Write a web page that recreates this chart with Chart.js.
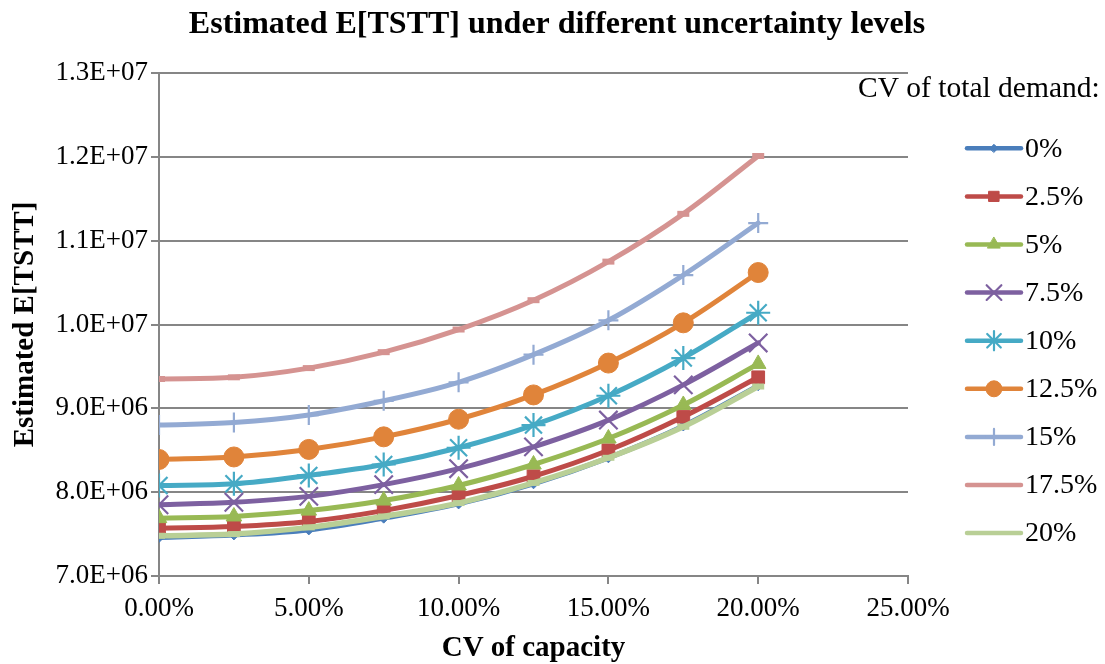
<!DOCTYPE html>
<html>
<head>
<meta charset="utf-8">
<script src="https://cdn.jsdelivr.net/npm/chart.js@4.4.1/dist/chart.umd.min.js"></script>
<style>
  html, body { margin: 0; padding: 0; background: #ffffff; }
  #wrap { width: 1105px; height: 664px; }
</style>
</head>
<body>
<div id="wrap"><canvas id="c" width="1105" height="664"></canvas></div>
<script>
// CV of capacity (x values)
const cvCapacity = [0, 0.025, 0.05, 0.075, 0.10, 0.125, 0.15, 0.175, 0.20];

// Estimated E[TSTT] for each CV of total demand
const tstt0   = [7.46e6, 7.49e6, 7.55e6, 7.69e6, 7.86e6, 8.10e6, 8.41e6, 8.79e6, 9.27e6];
const tstt25  = [7.57e6, 7.59e6, 7.65e6, 7.78e6, 7.96e6, 8.19e6, 8.50e6, 8.90e6, 9.37e6];
const tstt5   = [7.69e6, 7.71e6, 7.78e6, 7.90e6, 8.08e6, 8.33e6, 8.64e6, 9.04e6, 9.53e6];
const tstt75  = [7.85e6, 7.88e6, 7.95e6, 8.09e6, 8.28e6, 8.54e6, 8.86e6, 9.28e6, 9.78e6];
const tstt10  = [8.08e6, 8.10e6, 8.20e6, 8.33e6, 8.53e6, 8.80e6, 9.15e6, 9.60e6, 1.014e7];
const tstt125 = [8.39e6, 8.42e6, 8.51e6, 8.66e6, 8.87e6, 9.16e6, 9.54e6, 1.002e7, 1.062e7];
const tstt15  = [8.80e6, 8.83e6, 8.92e6, 9.09e6, 9.31e6, 9.64e6, 1.005e7, 1.059e7, 1.121e7];
const tstt175 = [9.35e6, 9.37e6, 9.48e6, 9.67e6, 9.94e6, 1.029e7, 1.075e7, 1.132e7, 1.201e7];
const tstt20  = [7.48e6, 7.50e6, 7.58e6, 7.71e6, 7.87e6, 8.11e6, 8.41e6, 8.78e6, 9.26e6];

const seriesLabels = ['0%', '2.5%', '5%', '7.5%', '10%', '12.5%', '15%', '17.5%', '20%'];
const seriesValues = [tstt0, tstt25, tstt5, tstt75, tstt10, tstt125, tstt15, tstt175, tstt20];

// Axis tick labels
const xTickValues = [0, 0.05, 0.10, 0.15, 0.20, 0.25];
const xTickLabels = ['0.00%', '5.00%', '10.00%', '15.00%', '20.00%', '25.00%'];
const yTickValues = [7e6, 8e6, 9e6, 1e7, 1.1e7, 1.2e7, 1.3e7];
const yTickLabels = ['7.0E+06', '8.0E+06', '9.0E+06', '1.0E+07', '1.1E+07', '1.2E+07', '1.3E+07'];

const chartTitle = 'Estimated E[TSTT] under different uncertainty levels';
const xTitle = 'CV of capacity';
const yTitle = 'Estimated E[TSTT]';
const legendTitle = 'CV of total demand:';

// Line colours and marker styles per series
const styles = [
  { color: '#4A7EBB', fill: '#4A7EBB', point: 'rectRot',  radius: 5,  pw: 1 },
  { color: '#BE4B48', fill: '#BE4B48', point: 'rect',     radius: 9,  pw: 1 },
  { color: '#98B954', fill: '#98B954', point: 'triangle', radius: 9,  pw: 1 },
  { color: '#7D60A0', fill: '#7D60A0', point: 'crossRot', radius: 13, pw: 2.2 },
  { color: '#46AAC5', fill: '#46AAC5', point: 'star',     radius: 12, pw: 2.2 },
  { color: '#E0843A', fill: '#E0843A', point: 'circle',   radius: 10, pw: 1 },
  { color: '#93AAD3', fill: '#93AAD3', point: 'cross',    radius: 10, pw: 2.2 },
  { color: '#D59391', fill: '#D59391', point: 'line',     radius: 6,  pw: 6 },
  { color: '#B9CF96', fill: '#B9CF96', point: 'line',     radius: 6,  pw: 6 }
];

const FONT = "'Liberation Serif', 'Times New Roman', serif";
Chart.defaults.font.family = FONT;
Chart.defaults.color = '#000000';

const datasets = seriesLabels.map((label, i) => ({
  label: label,
  data: cvCapacity.map((x, j) => ({ x: x, y: seriesValues[i][j] })),
  borderColor: styles[i].color,
  backgroundColor: styles[i].fill,
  borderWidth: i === 8 ? 5.5 : 5,
  borderCapStyle: 'round',
  borderJoinStyle: 'round',
  tension: 0.35,
  pointStyle: styles[i].point,
  pointRadius: styles[i].radius,
  pointHoverRadius: styles[i].radius,
  pointBorderWidth: styles[i].pw,
  pointBackgroundColor: styles[i].fill,
  pointBorderColor: styles[i].color,
  // later series sit on top of earlier ones
  order: seriesLabels.length - i
}));

// Heading across the whole canvas, plus a legend on the right
const chartDecor = {
  id: 'chartDecor',
  afterDraw(chart) {
    const ctx = chart.ctx;
    ctx.save();
    ctx.fillStyle = '#000';
    ctx.textBaseline = 'middle';
    ctx.textAlign = 'center';
    ctx.font = 'bold 32px ' + FONT;
    ctx.fillText(chartTitle, 557, 25);

    ctx.textAlign = 'left';
    ctx.font = '29.5px ' + FONT;
    ctx.fillText(legendTitle, 858, 89);
    chart.data.datasets.forEach((ds, i) => {
      const y = 148.3 + i * 48.1;
      ctx.strokeStyle = ds.borderColor;
      ctx.lineWidth = 4.5;
      ctx.lineCap = 'round';
      ctx.beginPath();
      ctx.moveTo(967, y);
      ctx.lineTo(1021, y);
      ctx.stroke();
      if (ds.pointStyle !== 'line') {
        ctx.fillStyle = ds.pointBackgroundColor;
        ctx.strokeStyle = ds.pointBorderColor;
        ctx.lineWidth = ds.pointBorderWidth;
        Chart.helpers.drawPoint(ctx, {
          pointStyle: ds.pointStyle,
          radius: ds.pointRadius * 0.8,
          borderWidth: ds.pointBorderWidth,
          rotation: 0
        }, 994, y);
      }
      ctx.fillStyle = '#000';
      ctx.font = '28px ' + FONT;
      ctx.fillText(ds.label, 1025, y + 1);
    });
    ctx.restore();
  }
};

new Chart(document.getElementById('c'), {
  type: 'line',
  data: { datasets: datasets },
  plugins: [chartDecor],
  options: {
    responsive: false,
    animation: false,
    layout: { padding: { left: 0, right: 197, top: 73, bottom: 0 } },
    plugins: {
      legend: { display: false },
      tooltip: { enabled: false },
      title: { display: false }
    },
    scales: {
      x: {
        type: 'linear',
        min: 0,
        max: 0.25,
        afterBuildTicks(scale) { scale.ticks = xTickValues.map(v => ({ value: v })); },
        afterFit(scale) { scale.height = 88; },
        ticks: {
          font: { size: 27 },
          color: '#000',
          padding: 9,
          maxRotation: 0,
          callback: (v) => xTickLabels[xTickValues.findIndex(t => Math.abs(t - v) < 1e-9)]
        },
        grid: { drawOnChartArea: false, drawTicks: true, tickLength: 8, color: '#868686', lineWidth: 2 },
        border: { display: true, color: '#868686', width: 2 },
        title: {
          display: true,
          text: xTitle,
          font: { size: 29, weight: 'bold', lineHeight: 1.05 },
          color: '#000',
          padding: { top: 0, bottom: 0 }
        }
      },
      y: {
        type: 'linear',
        min: 7e6,
        max: 1.3e7,
        afterBuildTicks(scale) { scale.ticks = yTickValues.map(v => ({ value: v })); },
        afterFit(scale) { scale.width = 159; },
        ticks: {
          font: { size: 27 },
          color: '#000',
          padding: 3,
          callback: (v) => yTickLabels[yTickValues.findIndex(t => Math.abs(t - v) < 1)]
        },
        grid: { drawOnChartArea: true, drawTicks: true, tickLength: 8, color: '#868686', lineWidth: 2 },
        border: { display: true, color: '#868686', width: 2 },
        title: {
          display: true,
          text: yTitle,
          font: { size: 29, weight: 'bold' },
          color: '#000',
          padding: { top: 8, bottom: 0 }
        }
      }
    }
  }
});
</script>
</body>
</html>
